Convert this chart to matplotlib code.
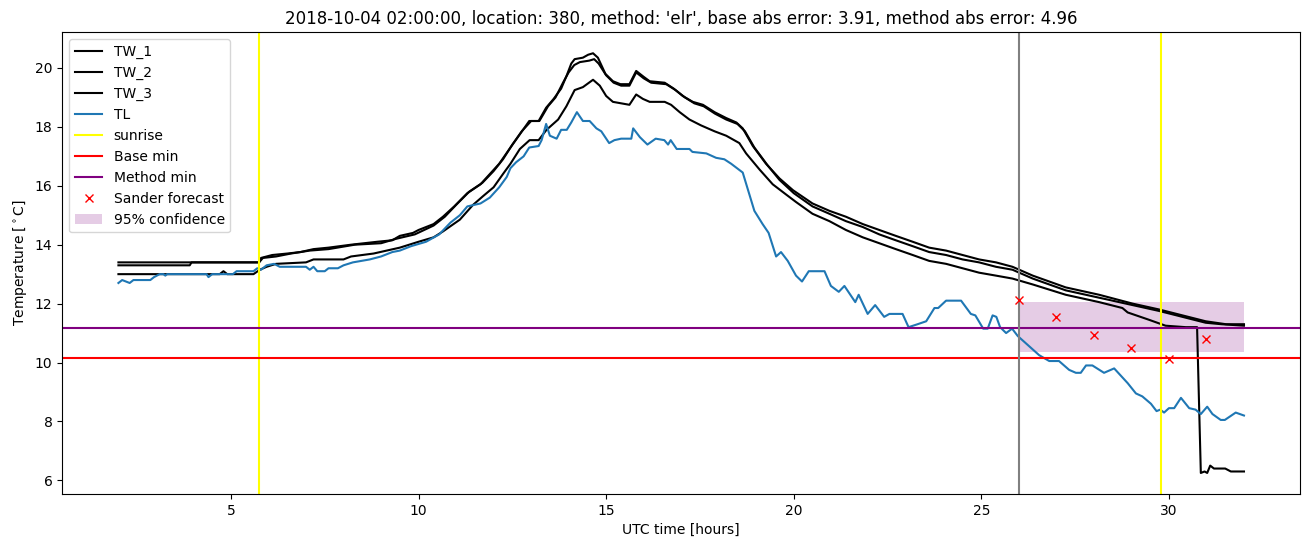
import numpy as np
import matplotlib
matplotlib.use("Agg")
import matplotlib.pyplot as plt

# --- data (time in UTC hours, temperature in degC) ---
t_tl = [2.0, 2.1, 2.3, 2.4, 2.85, 2.95, 3.1, 3.2, 3.25, 3.3, 4.35, 4.4, 4.5, 5.05, 5.15, 5.6, 5.7, 5.8,
        5.95, 6.15, 6.3, 7.0, 7.1, 7.2, 7.3, 7.5, 7.6, 7.85, 8.0, 8.25, 8.7, 9.0, 9.3, 9.5, 9.8, 10.2,
        10.55, 10.85, 11.1, 11.3, 11.65, 11.9, 12.15, 12.35, 12.45, 12.6, 12.8, 12.95, 13.2, 13.28, 13.4,
        13.5, 13.68, 13.8, 13.95, 14.07, 14.22, 14.38, 14.56, 14.74, 14.87, 15.08, 15.22, 15.4, 15.67,
        15.72, 15.9, 16.1, 16.32, 16.55, 16.65, 16.72, 16.88, 17.22, 17.3, 17.67, 17.93, 18.15, 18.33,
        18.64, 18.95, 19.17, 19.33, 19.53, 19.66, 19.84, 20.06, 20.22, 20.4, 20.82, 20.99, 21.2, 21.35,
        21.64, 21.73, 21.97, 22.17, 22.41, 22.55, 22.9, 23.06, 23.3, 23.53, 23.75, 23.85, 24.06, 24.46,
        24.72, 24.84, 25.05, 25.17, 25.3, 25.4, 25.5, 25.66, 25.82, 25.97, 26.54, 26.81, 27.07, 27.34,
        27.52, 27.65, 27.79, 27.96, 28.27, 28.54, 28.9, 29.12, 29.29, 29.52, 29.67, 29.77, 29.87, 30.0,
        30.14, 30.32, 30.54, 30.71, 30.85, 31.02, 31.16, 31.38, 31.49, 31.78, 32.0]
tl = [12.7, 12.8, 12.7, 12.8, 12.8, 12.9, 13.0, 13.0, 12.95, 13.0, 13.0, 12.9, 13.0, 13.0, 13.1, 13.1, 13.2, 13.15,
      13.3, 13.35, 13.25, 13.25, 13.15, 13.25, 13.1, 13.1, 13.2, 13.2, 13.3, 13.4, 13.5, 13.6, 13.75, 13.8, 13.95, 14.1,
      14.35, 14.75, 15.0, 15.3, 15.4, 15.6, 15.95, 16.3, 16.6, 16.8, 17.0, 17.3, 17.35, 17.55, 18.1,
      17.7, 17.6, 17.9, 17.9, 18.15, 18.5, 18.2, 18.2, 17.95, 17.85, 17.45, 17.55, 17.6, 17.6,
      17.95, 17.65, 17.4, 17.6, 17.55, 17.4, 17.55, 17.25, 17.25, 17.15, 17.1, 16.95, 16.9, 16.75,
      16.45, 15.15, 14.7, 14.4, 13.6, 13.75, 13.45, 12.95, 12.75, 13.1, 13.1, 12.6, 12.4, 12.6,
      12.05, 12.3, 11.65, 11.95, 11.55, 11.65, 11.65, 11.2, 11.3, 11.4, 11.85, 11.85, 12.1, 12.1,
      11.65, 11.6, 11.15, 11.15, 11.6, 11.55, 11.2, 11.0, 11.15, 10.9, 10.25, 10.05, 10.05, 9.75,
      9.65, 9.65, 9.9, 9.9, 9.65, 9.8, 9.3, 8.95, 8.85, 8.6, 8.35, 8.4, 8.3, 8.45,
      8.45, 8.8, 8.45, 8.4, 8.25, 8.5, 8.25, 8.05, 8.05, 8.3, 8.2]

t_tw1 = [2.0, 5.75, 5.8, 6.1, 6.5, 6.85, 7.2, 7.6, 8.2, 8.9, 9.3, 9.5, 9.85, 10.0, 10.4, 10.65, 10.95, 11.3,
         11.65, 11.9, 12.15, 12.45, 12.7, 12.95, 13.2, 13.4, 13.6, 13.8, 13.95, 14.07, 14.16, 14.38, 14.52,
         14.65, 14.78, 14.98, 15.18, 15.38, 15.62, 15.8, 16.0, 16.16, 16.56, 16.8, 17.04, 17.31, 17.58,
         17.89, 18.2, 18.47, 18.64, 18.91, 19.26, 19.62, 19.98, 20.5, 20.95, 21.39, 21.84, 22.28, 22.72,
         23.17, 23.61, 24.06, 24.5, 24.94, 25.39, 25.83, 26.37, 27.25, 28.14, 29.03, 29.74, 30.36, 30.98,
         31.52, 32.0]
tw1 = [13.4, 13.4, 13.55, 13.65, 13.7, 13.75, 13.85, 13.9, 14.0, 14.1, 14.15, 14.3, 14.4, 14.5, 14.7, 14.95, 15.3, 15.75,
       16.05, 16.4, 16.75, 17.3, 17.75, 18.2, 18.2, 18.65, 18.95, 19.3, 19.75, 20.15, 20.3, 20.35, 20.45,
       20.5, 20.35, 19.8, 19.55, 19.45, 19.45, 19.9, 19.7, 19.55, 19.5, 19.3, 19.05, 18.85, 18.75,
       18.5, 18.3, 18.15, 17.95, 17.35, 16.75, 16.25, 15.85, 15.4, 15.15, 14.95, 14.7, 14.5, 14.3,
       14.1, 13.9, 13.8, 13.65, 13.5, 13.4, 13.25, 12.95, 12.55, 12.3, 12.0, 11.8, 11.6, 11.4,
       11.3, 11.3]

t_tw2 = [2.0, 3.9, 3.95, 5.75, 5.85, 6.2, 6.6, 7.1, 7.6, 8.3, 9.0, 9.4, 9.9, 10.4, 10.7, 11.0, 11.35, 11.7,
         12.0, 12.25, 12.5, 12.75, 13.0, 13.22, 13.45, 13.65, 13.85, 14.0, 14.15, 14.3, 14.55, 14.68, 14.8,
         15.0, 15.2, 15.4, 15.62, 15.8, 16.0, 16.2, 16.6, 16.85, 17.1, 17.35, 17.6, 17.9, 18.2, 18.5, 18.7,
         18.95, 19.3, 19.62, 20.0, 20.5, 20.95, 21.39, 21.84, 22.28, 22.72, 23.17, 23.61, 24.06, 24.5,
         24.94, 25.39, 25.83, 26.37, 27.25, 28.14, 29.03, 29.74, 30.36, 30.98, 31.4, 32.0]
tw2 = [13.3, 13.3, 13.4, 13.4, 13.55, 13.6, 13.7, 13.8, 13.85, 14.0, 14.05, 14.2, 14.35, 14.65, 14.95, 15.35, 15.8, 16.1,
       16.5, 16.9, 17.4, 17.85, 18.2, 18.2, 18.7, 19.0, 19.5, 19.85, 20.1, 20.2, 20.25, 20.3, 20.15,
       19.75, 19.5, 19.4, 19.4, 19.85, 19.65, 19.5, 19.45, 19.25, 19.0, 18.8, 18.7, 18.45, 18.25, 18.1, 17.85,
       17.3, 16.7, 16.2, 15.75, 15.3, 15.05, 14.8, 14.6, 14.35, 14.15, 13.95, 13.75, 13.65, 13.5,
       13.4, 13.25, 13.15, 12.85, 12.45, 12.2, 11.95, 11.75, 11.55, 11.35, 11.3, 11.25]

t_tw3 = [2.0, 4.7, 4.8, 4.9, 5.6, 5.77, 5.95, 6.2, 7.0, 7.2, 8.0, 8.2, 8.8, 9.15, 9.5, 10.0, 10.4, 10.65,
         11.1, 11.45, 11.72, 12.0, 12.25, 12.45, 12.7, 12.96, 13.2, 13.41, 13.72, 13.94, 14.16, 14.38,
         14.65, 14.83, 15.0, 15.18, 15.4, 15.62, 15.8, 15.98, 16.16, 16.56, 16.73, 16.96, 17.22, 17.53,
         17.89, 18.2, 18.55, 18.73, 19.09, 19.44, 19.8, 20.06, 20.5, 20.95, 21.39, 21.84, 22.28, 22.72,
         23.17, 23.61, 24.06, 24.5, 24.94, 25.39, 25.83, 26.37, 27.25, 28.14, 28.76, 28.9, 29.47, 29.91,
         30.45, 30.75, 30.85, 30.95, 31.02, 31.1, 31.2, 31.5, 31.65, 32.0]
tw3 = [13.0, 13.0, 13.1, 13.0, 13.0, 13.15, 13.25, 13.35, 13.4, 13.5, 13.5, 13.6, 13.7, 13.8, 13.9, 14.1, 14.25, 14.45,
       14.85, 15.35, 15.65, 15.95, 16.4, 16.75, 17.25, 17.55, 17.55, 17.9, 18.25, 18.7, 19.25, 19.35,
       19.6, 19.4, 19.05, 18.85, 18.8, 18.75, 19.1, 18.95, 18.85, 18.85, 18.75, 18.5, 18.25, 18.05,
       17.85, 17.7, 17.45, 17.1, 16.55, 16.05, 15.7, 15.45, 15.05, 14.8, 14.5, 14.25, 14.05, 13.85,
       13.65, 13.45, 13.35, 13.2, 13.05, 12.95, 12.85, 12.65, 12.3, 12.05, 11.85, 11.7, 11.45, 11.25,
       11.2, 11.2, 6.25, 6.3, 6.25, 6.5, 6.4, 6.4, 6.3, 6.3]

sunrise = [5.75, 29.78]
forecast_time = 26.0
base_min = 10.15
method_min = 11.18
sander_t = [26, 27, 28, 29, 30, 31]
sander_v = [12.12, 11.53, 10.95, 10.5, 10.13, 10.8]
conf_t = [26, 32]
conf_lo = 10.35
conf_hi = 12.07

title = "2018-10-04 02:00:00, location: 380, method: 'elr', base abs error: 3.91, method abs error: 4.96"

fig, ax = plt.subplots(figsize=(13.11, 5.47), dpi=100)
fig.subplots_adjust(left=0.0474, right=0.9918, top=0.941, bottom=0.097)

ax.plot(t_tw1, tw1, color='black', label='TW_1')
ax.plot(t_tw2, tw2, color='black', label='TW_2')
ax.plot(t_tw3, tw3, color='black', label='TW_3')
ax.plot(t_tl, tl, color='tab:blue', label='TL')
for i, s in enumerate(sunrise):
    ax.axvline(s, color='yellow', label='sunrise' if i == 0 else None)
ax.axhline(base_min, color='red', label='Base min')
ax.axhline(method_min, color='purple', label='Method min')
ax.axvline(forecast_time, color='gray')
ax.plot(sander_t, sander_v, 'x', color='red', linestyle='none', label='Sander forecast')
ax.fill_between(conf_t, conf_lo, conf_hi, color='purple', alpha=0.2, linewidth=0, label='95% confidence')

ax.set_title(title)
ax.set_xlabel('UTC time [hours]')
ax.set_ylabel(r'Temperature [$^\circ$C]')
ax.legend(loc='upper left')

fig.savefig('out.png', dpi=100)
